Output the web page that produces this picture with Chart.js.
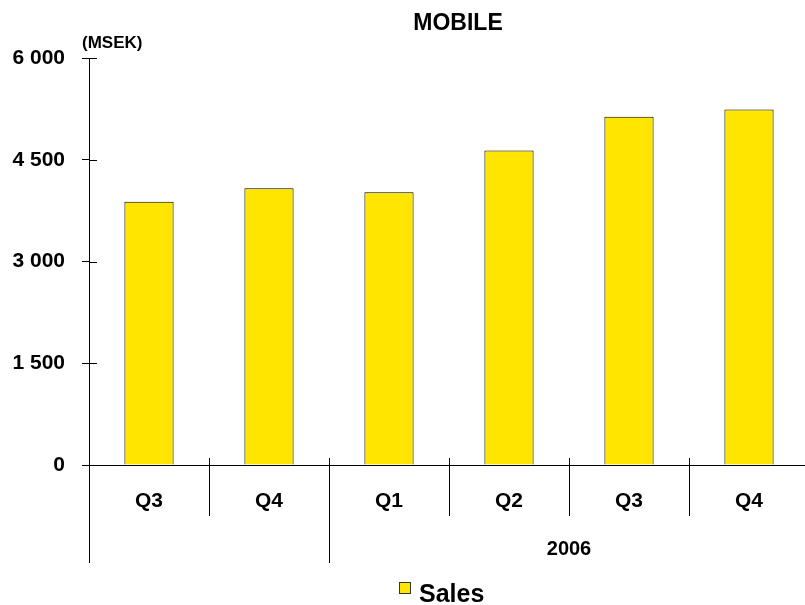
<!DOCTYPE html>
<html>
<head>
<meta charset="utf-8">
<script src="https://cdn.jsdelivr.net/npm/chart.js@4"></script>
<style>
  html, body { margin: 0; padding: 0; background: #fff; overflow: hidden; }
  #wrap { width: 812px; height: 605px; }
</style>
</head>
<body>
<div id="wrap"><canvas id="chartCanvas" width="812" height="605"></canvas></div>
<script>
// data
const quarters = ['Q3', 'Q4', 'Q1', 'Q2', 'Q3', 'Q4'];
const sales = [3880, 4080, 4020, 4635, 5135, 5240];
const yearLabels = ['', '2006'];
const yearSpans = [2, 4];
const yTicks = [0, 1500, 3000, 4500, 6000];

const FONT = "'Liberation Sans', Arial, sans-serif";
const YELLOW = '#FFE600';

// "6000" -> "6 000"
function fmt(v) {
    return String(v).replace(/\B(?=(\d{3})+(?!\d))/g, ' ');
}

// extra drawing: inner tick stubs, long axis, separators, year row, title, unit, legend
const extras = {
    id: 'extras',
    afterDraw(chart) {
        const ctx = chart.ctx;
        const x = chart.scales.x;
        const y = chart.scales.y;
        const area = chart.chartArea;
        ctx.save();
        ctx.strokeStyle = '#000';
        ctx.lineWidth = 1;

        // tick stubs into the plot
        yTicks.forEach(function (v) {
            const py = Math.round(y.getPixelForValue(v)) + 0.5;
            ctx.beginPath();
            ctx.moveTo(area.left, py);
            ctx.lineTo(area.left + 8, py);
            ctx.stroke();
        });

        // y axis runs down through the label rows
        const ax = Math.round(area.left) + 0.5;
        ctx.beginPath();
        ctx.moveTo(ax, area.bottom);
        ctx.lineTo(ax, area.bottom + 98);
        ctx.stroke();

        // separators between quarters, longer ones between years
        const groupEnds = [];
        let acc = 0;
        yearSpans.forEach(function (s) { acc += s; groupEnds.push(acc); });
        for (let i = 1; i < quarters.length; i++) {
            const px = Math.round((x.getPixelForValue(i - 1) + x.getPixelForValue(i)) / 2) + 0.5;
            const long = groupEnds.indexOf(i) >= 0;
            ctx.beginPath();
            ctx.moveTo(px, area.bottom - 7);
            ctx.lineTo(px, area.bottom + (long ? 98 : 51));
            ctx.stroke();
        }

        // year row
        ctx.fillStyle = '#000';
        ctx.font = 'bold 20px ' + FONT;
        ctx.textAlign = 'center';
        ctx.textBaseline = 'middle';
        let start = 0;
        yearLabels.forEach(function (lab, k) {
            const end = start + yearSpans[k] - 1;
            const w = x.getPixelForValue(1) - x.getPixelForValue(0);
            const left = x.getPixelForValue(start) - w / 2;
            const right = x.getPixelForValue(end) + w / 2;
            if (lab) ctx.fillText(lab, (left + right) / 2, area.bottom + 84);
            start = end + 1;
        });

        // title
        ctx.font = 'bold 23px ' + FONT;
        ctx.fillText('MOBILE', 458, 24);

        // unit
        ctx.font = 'bold 17px ' + FONT;
        ctx.textAlign = 'left';
        ctx.fillText('(MSEK)', 82, 43);

        // legend
        ctx.fillStyle = YELLOW;
        ctx.fillRect(399.5, 582.5, 11, 11);
        ctx.strokeStyle = '#333';
        ctx.strokeRect(399.5, 582.5, 11, 11);
        ctx.fillStyle = '#000';
        ctx.font = 'bold 25px ' + FONT;
        ctx.textBaseline = 'alphabetic';
        ctx.fillText('Sales', 419, 602);

        ctx.restore();
    }
};

const config = {
    type: 'bar',
    data: {
        labels: quarters,
        datasets: [{
            label: 'Sales',
            data: sales,
            backgroundColor: YELLOW,
            borderColor: '#000',
            borderWidth: 1,
            borderSkipped: 'bottom',
            barPercentage: 0.41,
            categoryPercentage: 1
        }]
    },
    options: {
        responsive: false,
        animation: false,
        layout: { padding: { left: 0, right: 3, top: 58, bottom: 0 } },
        plugins: {
            legend: { display: false },
            title: { display: false },
            tooltip: { enabled: false }
        },
        scales: {
            x: {
                grid: { display: false, drawTicks: false },
                border: { display: true, color: '#000', width: 1 },
                ticks: {
                    color: '#000',
                    padding: 24,
                    font: { family: FONT, size: 21, weight: 'bold' }
                },
                afterFit(scale) { scale.height = 140; }
            },
            y: {
                min: 0,
                max: 6000,
                afterBuildTicks(scale) {
                    scale.ticks = yTicks.map(function (v) { return { value: v }; });
                },
                grid: {
                    drawOnChartArea: false,
                    drawTicks: true,
                    tickLength: 7,
                    color: '#000'
                },
                border: { display: true, color: '#000', width: 1 },
                ticks: {
                    color: '#000',
                    padding: 17,
                    font: { family: FONT, size: 21, weight: 'bold' },
                    callback: function (v) { return fmt(v); }
                },
                afterFit(scale) { scale.width = 89; }
            }
        }
    },
    plugins: [extras]
};

const myChart = new Chart(document.getElementById('chartCanvas'), config);
</script>
</body>
</html>
